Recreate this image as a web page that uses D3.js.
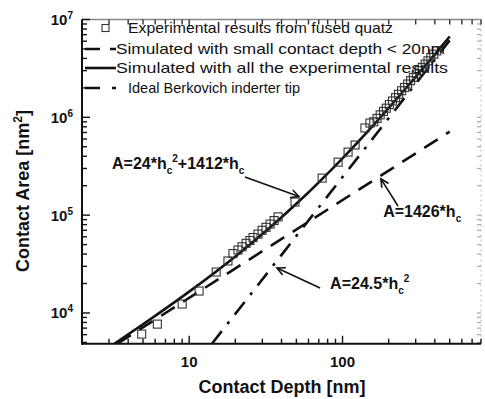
<!DOCTYPE html>
<html>
<head>
<meta charset="utf-8">
<script src="https://cdn.jsdelivr.net/npm/d3@7"></script>
<style>
    body { margin: 0; background: #fff; }
    text { font-family: Arial, "Liberation Sans", sans-serif; fill: #111; }
</style>
</head>
<body>
<div id="chart"></div>
<script>
// experimental points, contact depth [nm] / contact area [nm^2]
var expDepth = [4.9, 6.2, 9.0, 11.6, 15.0, 17.9, 19.3, 20.8, 22.1, 23.5, 24.9, 26.1, 28.1, 29.9, 31.7, 33.7, 35.8, 38.0,
    49.0, 73.6, 93.6, 108.7, 120.8, 140, 151,
    160, 168, 176, 185, 193, 202, 212, 222, 232, 243, 254, 266, 278, 290, 303, 317, 331, 346, 361, 377, 394, 412];
var expArea = [6080, 7690, 12330, 16750, 26200, 34000, 40500, 44000, 47500, 51500, 55000, 59000, 64000, 70000, 75000, 81000, 88000, 96000,
    136000, 239000, 348000, 441000, 521000, 778000, 875000,
    900000, 975000, 1060000, 1150000, 1240000, 1350000, 1470000, 1590000, 1720000, 1870000, 2020000, 2190000, 2370000,
    2560000, 2770000, 3000000, 3240000, 3500000, 3780000, 4080000, 4420000, 4780000];

// fitted curves
var fitAllDepth = [3.25, 5, 10, 20, 50, 100, 200, 300, 400, 500];
var fitAllArea = [4842, 7660, 16520, 37840, 130600, 381200, 1242400, 2583600, 4404800, 6706000];
var fitSmallDepth = [3.4, 500];
var fitSmallArea = [4850, 713000];
var idealDepth = [14.07, 500];
var idealArea = [4850, 6125000];

var legendLabels = [
    "Experimental results from fused quatz",
    "Simulated with small contact depth < 20nm",
    "Simulated with all the experimental results",
    "Ideal Berkovich inderter tip"
];

var xTickValues = [10, 100];
var xTickLabels = ["10", "100"];
var yTickValues = [1e4, 1e5, 1e6, 1e7];
var yTickExps = ["4", "5", "6", "7"];

var width = 485, height = 399;
var pLeft = 82, pRight = 481, pTop = 19.5, pBottom = 343.7;

var svg = d3.select("#chart").append("svg").attr("width", width).attr("height", height);

var x = d3.scaleLog().domain([2, 800]).range([pLeft, pRight]);
var y = d3.scaleLog().domain([4850, 1e7]).range([pBottom, pTop]);

var defs = svg.append("defs");
defs.append("clipPath").attr("id", "plotClip")
    .append("rect").attr("x", pLeft).attr("y", pTop).attr("width", pRight - pLeft).attr("height", pBottom - pTop);

defs.append("marker")
    .attr("id", "arrow")
    .attr("viewBox", "-10 -6 12 12")
    .attr("refX", 0).attr("refY", 0)
    .attr("markerWidth", 12).attr("markerHeight", 12)
    .attr("markerUnits", "userSpaceOnUse")
    .attr("orient", "auto")
    .append("path")
    .attr("d", "M-8,-4L0,0L-8,4")
    .attr("fill", "none").attr("stroke", "#111").attr("stroke-width", 1.6);

// frame: top and right thin grey, left and bottom black
svg.append("line").attr("x1", pLeft).attr("x2", pRight).attr("y1", pTop).attr("y2", pTop)
    .attr("stroke", "#888").attr("stroke-width", 1.3);
svg.append("line").attr("x1", pRight).attr("x2", pRight).attr("y1", pTop).attr("y2", pBottom)
    .attr("stroke", "#bbb").attr("stroke-width", 1).attr("stroke-dasharray", "2,3");

function isMajor(v) { return Math.abs(Math.log10(v) - Math.round(Math.log10(v))) < 1e-6; }

var xTicks = x.ticks();
var yTicks = y.ticks();

// minor + major ticks, all pointing inward
svg.append("g").selectAll("line").data(yTicks).enter().append("line")
    .attr("x1", pLeft).attr("x2", function (d) { return pLeft + (isMajor(d) ? 8 : 5); })
    .attr("y1", function (d) { return y(d); }).attr("y2", function (d) { return y(d); })
    .attr("stroke", "#111").attr("stroke-width", 1.4);
svg.append("g").selectAll("line").data(yTicks).enter().append("line")
    .attr("x1", pRight).attr("x2", pRight - 4)
    .attr("y1", function (d) { return y(d); }).attr("y2", function (d) { return y(d); })
    .attr("stroke", "#aaa").attr("stroke-width", 1.2);
svg.append("g").selectAll("line").data(xTicks).enter().append("line")
    .attr("x1", function (d) { return x(d); }).attr("x2", function (d) { return x(d); })
    .attr("y1", pBottom).attr("y2", function (d) { return pBottom - (isMajor(d) ? 8 : 5); })
    .attr("stroke", "#111").attr("stroke-width", 1.4);
svg.append("g").selectAll("line").data(xTicks).enter().append("line")
    .attr("x1", function (d) { return x(d); }).attr("x2", function (d) { return x(d); })
    .attr("y1", pTop).attr("y2", function (d) { return pTop + (isMajor(d) ? 7 : 5); })
    .attr("stroke", "#333").attr("stroke-width", 1.4);

svg.append("line").attr("x1", pLeft).attr("x2", pLeft).attr("y1", pTop).attr("y2", pBottom + 1)
    .attr("stroke", "#111").attr("stroke-width", 2);
svg.append("line").attr("x1", pLeft - 1).attr("x2", pRight).attr("y1", pBottom).attr("y2", pBottom)
    .attr("stroke", "#111").attr("stroke-width", 2);

// tick labels
var yLab = svg.append("g").selectAll("text").data(yTickValues).enter().append("text")
    .attr("x", 73).attr("y", function (d) { return y(d) + 5.5; })
    .attr("text-anchor", "end").attr("font-size", 15).attr("font-weight", "bold");
yLab.append("tspan").text("10");
yLab.append("tspan").attr("dy", -6).attr("font-size", 10).text(function (d, i) { return yTickExps[i]; });

svg.append("g").selectAll("text").data(xTickValues).enter().append("text")
    .attr("x", function (d) { return x(d); }).attr("y", 367)
    .attr("text-anchor", "middle").attr("font-size", 15).attr("font-weight", "bold")
    .text(function (d, i) { return xTickLabels[i]; });

// axis titles
svg.append("text").attr("x", 282).attr("y", 393).attr("text-anchor", "middle")
    .attr("font-size", 18).attr("font-weight", "bold").text("Contact Depth [nm]");
var yTitle = svg.append("text").attr("transform", "translate(29,191) rotate(-90)")
    .attr("text-anchor", "middle").attr("font-size", 18).attr("font-weight", "bold");
yTitle.append("tspan").text("Contact Area [nm");
yTitle.append("tspan").attr("dy", -7).attr("font-size", 12).text("2");
yTitle.append("tspan").attr("dy", 7).text("]");

// curves
var plot = svg.append("g").attr("clip-path", "url(#plotClip)");
var line = d3.line().x(function (d) { return x(d[0]); }).y(function (d) { return y(d[1]); });

plot.append("path").datum(d3.zip(fitSmallDepth, fitSmallArea))
    .attr("d", line).attr("fill", "none").attr("stroke", "#111").attr("stroke-width", 2.6)
    .attr("stroke-dasharray", "16,10");
plot.append("path").datum(d3.zip(idealDepth, idealArea))
    .attr("d", line).attr("fill", "none").attr("stroke", "#111").attr("stroke-width", 2.6)
    .attr("stroke-dasharray", "16,9,3,9");
plot.append("path").datum(d3.zip(fitAllDepth, fitAllArea))
    .attr("d", line.curve(d3.curveMonotoneX)).attr("fill", "none").attr("stroke", "#111").attr("stroke-width", 2.6);

// experimental squares
var sq = 8;
plot.append("g").selectAll("rect").data(d3.zip(expDepth, expArea)).enter().append("rect")
    .attr("x", function (d) { return x(d[0]) - sq / 2; })
    .attr("y", function (d) { return y(d[1]) - sq / 2; })
    .attr("width", sq).attr("height", sq)
    .attr("fill", "none").attr("stroke", "#333").attr("stroke-width", 1.1);

// legend
var legendY = [28, 49, 68, 88];
var legendTextX = [128, 116, 116, 128];
var legendTextLen = [265, 329, 332, 172];
var lg = svg.append("g");
lg.append("rect").attr("x", 102).attr("y", legendY[0] - 3.5).attr("width", 7).attr("height", 7)
    .attr("fill", "none").attr("stroke", "#333").attr("stroke-width", 1.1);
lg.append("line").attr("x1", 85).attr("x2", 116).attr("y1", legendY[1]).attr("y2", legendY[1])
    .attr("stroke", "#111").attr("stroke-width", 2.6).attr("stroke-dasharray", "15,10,6");
lg.append("line").attr("x1", 85).attr("x2", 116).attr("y1", legendY[2]).attr("y2", legendY[2])
    .attr("stroke", "#111").attr("stroke-width", 2.6);
lg.append("line").attr("x1", 85).attr("x2", 117).attr("y1", legendY[3]).attr("y2", legendY[3])
    .attr("stroke", "#111").attr("stroke-width", 2.6).attr("stroke-dasharray", "15,12,4,20");
lg.selectAll("text").data(legendLabels).enter().append("text")
    .attr("x", function (d, i) { return legendTextX[i]; })
    .attr("y", function (d, i) { return legendY[i] + 5; })
    .attr("font-size", 15)
    .attr("textLength", function (d, i) { return legendTextLen[i]; })
    .attr("lengthAdjust", "spacingAndGlyphs")
    .text(function (d) { return d; });

// annotations
var arrows = [
    { from: [23.1, 245000], to: [52, 155000] },
    { from: [230, 123900], to: [178, 235000] },
    { from: [71.4, 17990], to: [37.4, 28780] }
];
svg.append("g").selectAll("line").data(arrows).enter().append("line")
    .attr("x1", function (d) { return x(d.from[0]); }).attr("y1", function (d) { return y(d.from[1]); })
    .attr("x2", function (d) { return x(d.to[0]); }).attr("y2", function (d) { return y(d.to[1]); })
    .attr("stroke", "#111").attr("stroke-width", 1.6).attr("marker-end", "url(#arrow)");

function eqText(px, py, parts) {
    var t = svg.append("text").attr("x", px).attr("y", py).attr("font-size", 16).attr("font-weight", "bold");
    var shift = 0;
    parts.forEach(function (p) {
        var target = p[1] === "sub" ? 5 : p[1] === "sup" ? -7 : 0;
        var ts = t.append("tspan").attr("dy", target - shift).text(p[0]);
        if (p[1] !== "") ts.attr("font-size", 10);
        shift = target;
    });
}
eqText(x(3.14), y(296000), [["A=24*h", ""], ["c", "sub"], ["2", "sup"], ["+1412*h", ""], ["c", "sub"]]);
eqText(x(184), y(95700), [["A=1426*h", ""], ["c", "sub"]]);
eqText(x(83), y(17550), [["A=24.5*h", ""], ["c", "sub"], ["2", "sup"]]);
</script>
</body>
</html>
